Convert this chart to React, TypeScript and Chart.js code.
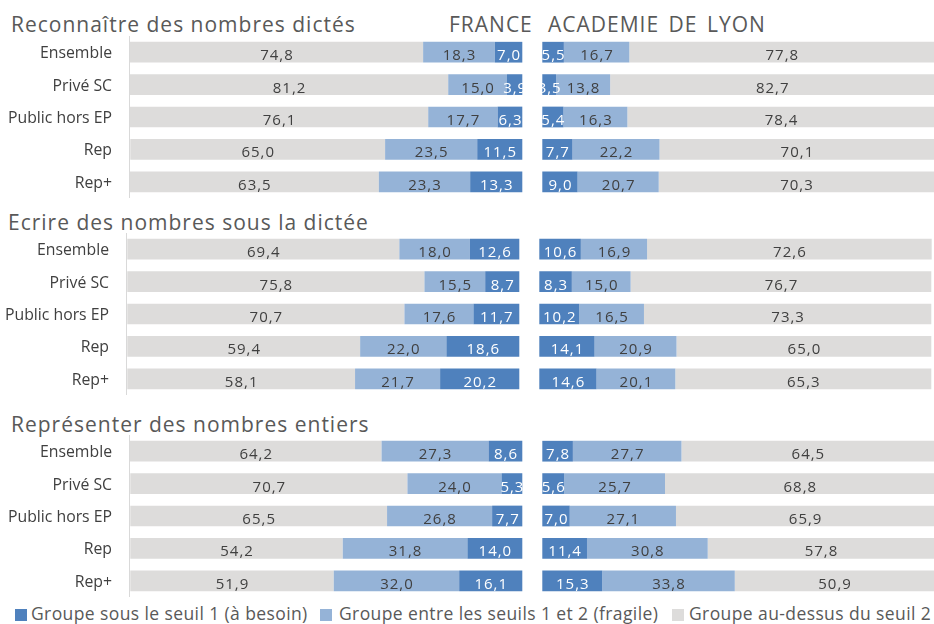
import React, { useEffect, useRef } from 'react';
import { Chart, registerables } from 'chart.js';

Chart.register(...registerables);

// ---------- DATA ----------
const categories = ['Ensemble', 'Privé SC', 'Public hors EP', 'Rep', 'Rep+'];
const sectionTitles = [
  'Reconnaître des nombres dictés',
  'Ecrire des nombres sous la dictée',
  'Représenter des nombres entiers',
];
const panelTitles = ['FRANCE', 'ACADEMIE DE LYON'];
const seriesNames = [
  'Groupe sous le seuil 1 (à besoin)',
  'Groupe entre les seuils 1 et 2 (fragile)',
  'Groupe au-dessus du seuil 2',
];

// Reconnaître des nombres dictés
const reconnaitreFranceSeuil1 = [7.0, 3.9, 6.3, 11.5, 13.3];
const reconnaitreFranceFragile = [18.3, 15.0, 17.7, 23.5, 23.3];
const reconnaitreFranceAuDessus = [74.8, 81.2, 76.1, 65.0, 63.5];
const reconnaitreLyonSeuil1 = [5.5, 3.5, 5.4, 7.7, 9.0];
const reconnaitreLyonFragile = [16.7, 13.8, 16.3, 22.2, 20.7];
const reconnaitreLyonAuDessus = [77.8, 82.7, 78.4, 70.1, 70.3];

// Ecrire des nombres sous la dictée
const ecrireFranceSeuil1 = [12.6, 8.7, 11.7, 18.6, 20.2];
const ecrireFranceFragile = [18.0, 15.5, 17.6, 22.0, 21.7];
const ecrireFranceAuDessus = [69.4, 75.8, 70.7, 59.4, 58.1];
const ecrireLyonSeuil1 = [10.6, 8.3, 10.2, 14.1, 14.6];
const ecrireLyonFragile = [16.9, 15.0, 16.5, 20.9, 20.1];
const ecrireLyonAuDessus = [72.6, 76.7, 73.3, 65.0, 65.3];

// Représenter des nombres entiers
const representerFranceSeuil1 = [8.6, 5.3, 7.7, 14.0, 16.1];
const representerFranceFragile = [27.3, 24.0, 26.8, 31.8, 32.0];
const representerFranceAuDessus = [64.2, 70.7, 65.5, 54.2, 51.9];
const representerLyonSeuil1 = [7.8, 5.6, 7.0, 11.4, 15.3];
const representerLyonFragile = [27.7, 25.7, 27.1, 30.8, 33.8];
const representerLyonAuDessus = [64.5, 68.8, 65.9, 57.8, 50.9];

const sections = [
  {
    france: [reconnaitreFranceSeuil1, reconnaitreFranceFragile, reconnaitreFranceAuDessus],
    lyon: [reconnaitreLyonSeuil1, reconnaitreLyonFragile, reconnaitreLyonAuDessus],
  },
  {
    france: [ecrireFranceSeuil1, ecrireFranceFragile, ecrireFranceAuDessus],
    lyon: [ecrireLyonSeuil1, ecrireLyonFragile, ecrireLyonAuDessus],
  },
  {
    france: [representerFranceSeuil1, representerFranceFragile, representerFranceAuDessus],
    lyon: [representerLyonSeuil1, representerLyonFragile, representerLyonAuDessus],
  },
];

// ---------- STYLE / LAYOUT ----------
const COLORS = ['#4f81bd', '#95b3d7', '#dddcdb'];
const LABEL_COLORS = ['#ffffff', '#404040', '#404040'];
const TEXT = '#595959';
const FONT = '"Open Sans", "DejaVu Sans", sans-serif';
const W = 934;
const H = 162;
const PX_PER_PCT = 3.92;
const layouts = [
  { top: 36, axisX: 129, zeroX: 522.3, rightStartX: 542.3, titleTop: 14, titleLeft: 11 },
  { top: 233, axisX: 126, zeroX: 519.3, rightStartX: 539.3, titleTop: 212, titleLeft: 8 },
  { top: 435, axisX: 129, zeroX: 522.3, rightStartX: 542.3, titleTop: 414, titleLeft: 11 },
];

const fmt = (v: number) => v.toFixed(1).replace('.', ',');

const valueLabels = {
  id: 'valueLabels',
  afterDatasetsDraw(chart: any) {
    const ctx = chart.ctx as CanvasRenderingContext2D;
    ctx.save();
    ctx.font = `15px ${FONT}`;
    ctx.textAlign = 'center';
    ctx.textBaseline = 'alphabetic';
    (ctx as any).letterSpacing = '1px';
    chart.data.datasets.forEach((ds: any, di: number) => {
      const meta = chart.getDatasetMeta(di);
      meta.data.forEach((el: any, i: number) => {
        const v = ds.segmentValues[i];
        const x = (el.x + el.base) / 2 + 0.5;
        ctx.fillStyle = ds.labelColor;
        ctx.fillText(fmt(v), x, el.y + 8);
      });
    });
    ctx.restore();
  },
};

function buildDatasets(idx: number) {
  const L = layouts[idx];
  const gap = (L.rightStartX - L.zeroX) / PX_PER_PCT;
  const { france, lyon } = sections[idx];
  const datasets: any[] = [];
  for (let k = 0; k < 3; k++) {
    const leftData = categories.map((_, i) => {
      let before = 0;
      for (let j = 0; j < k; j++) before += france[j][i];
      return [-(before + france[k][i]), -before];
    });
    const rightData = categories.map((_, i) => {
      let before = 0;
      for (let j = 0; j < k; j++) before += lyon[j][i];
      return [gap + before, gap + before + lyon[k][i]];
    });
    const common = {
      backgroundColor: COLORS[k],
      borderWidth: 0,
      grouped: false,
      barPercentage: 0.64,
      categoryPercentage: 1,
      labelColor: LABEL_COLORS[k],
    };
    datasets.push({ ...common, label: seriesNames[k] + ' FRANCE', data: leftData, segmentValues: france[k] });
    datasets.push({ ...common, label: seriesNames[k] + ' LYON', data: rightData, segmentValues: lyon[k] });
  }
  return datasets;
}

function Section({ idx }: { idx: number }) {
  const ref = useRef<HTMLCanvasElement>(null);
  const L = layouts[idx];
  useEffect(() => {
    if (!ref.current) return;
    const min = -(L.zeroX - L.axisX) / PX_PER_PCT;
    const max = (W - L.zeroX) / PX_PER_PCT;
    const chart = new Chart(ref.current, {
      type: 'bar',
      data: { labels: categories, datasets: buildDatasets(idx) },
      options: {
        indexAxis: 'y',
        responsive: false,
        animation: false,
        layout: { padding: 0 },
        plugins: { legend: { display: false }, tooltip: { enabled: false }, title: { display: false } },
        scales: {
          x: { type: 'linear', display: false, min, max, grid: { display: false } },
          y: {
            type: 'category',
            position: 'left',
            grid: { display: false, drawTicks: false },
            border: { display: true, color: '#d9d9d9', width: 1 },
            ticks: { color: '#404040', font: { family: FONT, size: 15.8 }, padding: 17, labelOffset: 1.5 },
            afterFit: (scale: any) => {
              scale.width = L.axisX;
              scale.paddingTop = 0;
              scale.paddingBottom = 0;
            },
          },
        },
      } as any,
      plugins: [valueLabels],
    });
    return () => chart.destroy();
  }, []);
  return (
    <canvas
      ref={ref}
      width={W}
      height={H}
      style={{ position: 'absolute', left: 0, top: L.top, width: W, height: H }}
    />
  );
}

const titleStyle: React.CSSProperties = {
  position: 'absolute',
  fontFamily: FONT,
  fontSize: 21,
  lineHeight: '21px',
  letterSpacing: '1px',
  color: TEXT,
  whiteSpace: 'pre',
};

const legendLayout = [
  { sq: 15, text: 31 },
  { sq: 320, text: 339 },
  { sq: 672, text: 689 },
];

export default function App() {
  return (
    <div
      style={{
        position: 'absolute',
        left: 0,
        top: 0,
        width: W,
        height: 624,
        background: '#ffffff',
        overflow: 'hidden',
      }}
    >
      {sectionTitles.map((t, i) => (
        <div key={t} style={{ ...titleStyle, left: layouts[i].titleLeft, top: layouts[i].titleTop }}>
          {t}
        </div>
      ))}
      <div style={{ ...titleStyle, left: 449, top: 14 }}>{panelTitles[0]}</div>
      <div style={{ ...titleStyle, left: 548, top: 14, wordSpacing: '3px' }}>{panelTitles[1]}</div>
      {[0, 1, 2].map((i) => (
        <Section key={i} idx={i} />
      ))}
      {seriesNames.map((n, i) => (
        <React.Fragment key={n}>
          <div
            style={{
              position: 'absolute',
              left: legendLayout[i].sq,
              top: 609,
              width: 12,
              height: 12,
              background: COLORS[i],
            }}
          />
          <div
            style={{
              position: 'absolute',
              left: legendLayout[i].text,
              top: 605,
              fontFamily: FONT,
              fontSize: 17.5,
              lineHeight: '17.5px',
              letterSpacing: '0.4px',
              color: TEXT,
              whiteSpace: 'pre',
            }}
          >
            {n}
          </div>
        </React.Fragment>
      ))}
    </div>
  );
}
